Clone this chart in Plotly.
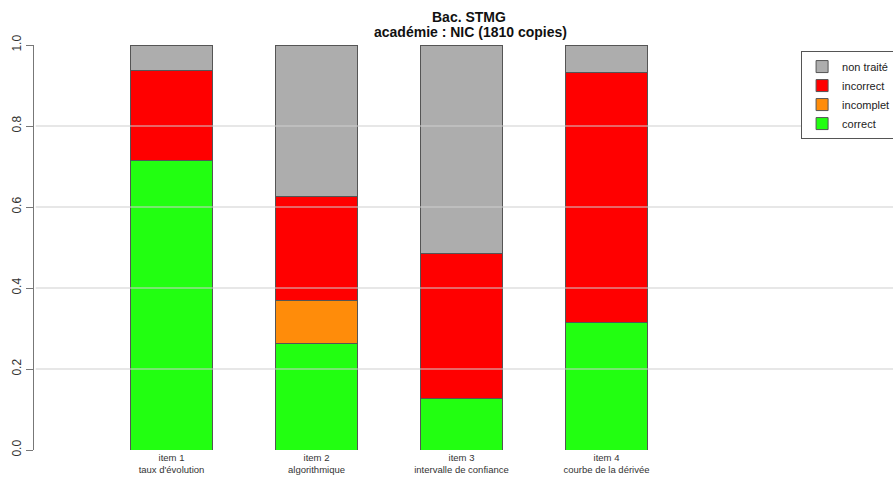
import plotly.graph_objects as go

items = ["item 1<br>taux d'évolution", "item 2<br>algorithmique",
         "item 3<br>intervalle de confiance", "item 4<br>courbe de la dérivée"]
positions = [1, 2, 3, 4]

correct = [0.714, 0.264, 0.126, 0.314]
incomplet = [0.0, 0.104, 0.0, 0.0]
incorrect = [0.224, 0.257, 0.360, 0.619]
non_traite = [0.062, 0.375, 0.514, 0.067]

series = [
    ("correct", correct, "#22ff11"),
    ("incomplet", incomplet, "#ff8c0a"),
    ("incorrect", incorrect, "#ff0000"),
    ("non traité", non_traite, "#adadad"),
]

yticks = [0.0, 0.2, 0.4, 0.6, 0.8, 1.0]
ytick_text = ["0.0", "0.2", "0.4", "0.6", "0.8", "1.0"]
grid_levels = [0.2, 0.4, 0.6, 0.8]

title_lines = ["<b>Bac. STMG</b>", "<b>académie : NIC (1810 copies)</b>"]

fig = go.Figure()
for name, vals, col in series:
    fig.add_trace(go.Bar(
        x=positions, y=vals, name=name, width=0.559,
        marker=dict(color=col, line=dict(color="#555555", width=1)),
    ))

for g in grid_levels:
    fig.add_shape(type="line", xref="paper", yref="y", x0=0.002, x1=1, y0=g, y1=g,
                  line=dict(color="#cfcfcf", width=1), layer="above")

fig.add_annotation(text=title_lines[0], xref="paper", yref="paper", x=0.506, y=1.07,
                   xanchor="center", yanchor="middle", showarrow=False,
                   font=dict(size=14, color="#111111"))
fig.add_annotation(text=title_lines[1], xref="paper", yref="paper", x=0.508, y=1.031,
                   xanchor="center", yanchor="middle", showarrow=False,
                   font=dict(size=14, color="#111111"))

fig.update_layout(
    width=893, height=479,
    barmode="stack",
    plot_bgcolor="white", paper_bgcolor="white",
    margin=dict(l=34, r=0, t=45, b=29, autoexpand=False),
    font=dict(family="Liberation Sans, Arial, sans-serif", color="#222222"),
    xaxis=dict(
        range=[0.0517, 5.976], tickmode="array", tickvals=positions, ticktext=items,
        showline=False, showgrid=False, zeroline=False, ticks="",
        tickfont=dict(size=9.5, color="#333333"),
    ),
    yaxis=dict(
        range=[0, 1], tickmode="array", tickvals=yticks, ticktext=ytick_text,
        showline=True, linecolor="#777777", linewidth=1,
        ticks="outside", ticklen=7, tickcolor="#777777",
        showgrid=False, zeroline=False, tickangle=-90,
        tickfont=dict(size=12, color="#333333"),
    ),
    legend=dict(
        x=0.893, xanchor="left", y=0.985, yanchor="top",
        bordercolor="#555555", borderwidth=1, bgcolor="white",
        traceorder="reversed", font=dict(size=11, color="#222222"),
        itemwidth=30,
    ),
    showlegend=True,
)

fig.write_html("out.html", config={"displayModeBar": False},
               post_script="document.body.style.margin='0';")
